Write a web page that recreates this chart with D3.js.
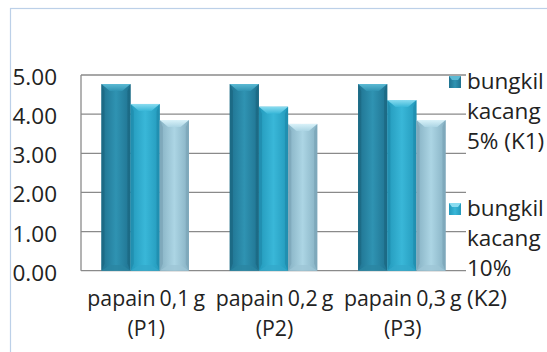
<!DOCTYPE html>
<html>
<head>
<meta charset="utf-8">
<script src="https://cdn.jsdelivr.net/npm/d3@7"></script>
<style>
  html, body { margin: 0; padding: 0; background: #fff; }
  svg { display: block; }
  text { font-family: "Open Sans", Lato, sans-serif; fill: #222; }
</style>
</head>
<body>
<svg id="chart" width="547" height="352"></svg>
<script>
// Treatment groups (two-line labels under each group)
const categories = ["P1", "P2", "P3"];
const categoryLines = [
  ["papain 0,1 g", "(P1)"],
  ["papain 0,2 g", "(P2)"],
  ["papain 0,3 g", "(P3)"]
];

// Series values per group
const seriesKeys = ["K1", "K2", "K3"];
const valuesK1 = [4.77, 4.77, 4.77];
const valuesK2 = [4.26, 4.19, 4.36];
const valuesK3 = [3.85, 3.75, 3.85];
const seriesValues = [valuesK1, valuesK2, valuesK3];

// Legend text, already wrapped into lines
const legendLines = [
  ["bungkil", "kacang", "5% (K1)"],
  ["bungkil", "kacang", "10%", "(K2)"]
];

// Y axis ticks
const yTicks = [0, 1, 2, 3, 4, 5];

// Bar palettes: face edge, face centre, top bevel, side bevel, bottom bevel
const palettes = {
  K1: { edge: "#1f7290", mid: "#2f93b2", top: "#5cbad4", side: "#1b6780", bottom: "#2a86a3" },
  K2: { edge: "#2399bb", mid: "#39b7d8", top: "#8adcf0", side: "#1f8aab", bottom: "#33a9cb" },
  K3: { edge: "#86b1c3", mid: "#acd5e4", top: "#d9f2f9", side: "#7ba4b6", bottom: "#9dc6d6" }
};

const fontSize = 22.5;
const catFontSize = 21.3;
const svg = d3.select("#chart");

// Outer chart frame (only top and left edges fall inside the view)
svg.append("rect")
  .attr("x", 10.5).attr("y", 8.5)
  .attr("width", 600).attr("height", 400)
  .attr("fill", "none")
  .attr("stroke", "#bcd0e8")
  .attr("stroke-width", 1.2);

const plot = { left: 81, right: 466, top: 75, bottom: 270.7 };

const x = d3.scaleBand().domain(categories).range([plot.left, plot.right]).padding(0);
const xInner = d3.scaleBand().domain(seriesKeys)
  .range([20.4, x.bandwidth() - 20.4]).padding(0);
const y = d3.scaleLinear().domain([0, 5]).range([plot.bottom, plot.top]);

// Gradients for bar faces
const defs = svg.append("defs");
seriesKeys.forEach(k => {
  const p = palettes[k];
  const g = defs.append("linearGradient").attr("id", "face-" + k)
    .attr("x1", "0%").attr("x2", "100%").attr("y1", "0%").attr("y2", "0%");
  g.append("stop").attr("offset", "0%").attr("stop-color", p.edge);
  g.append("stop").attr("offset", "50%").attr("stop-color", p.mid);
  g.append("stop").attr("offset", "100%").attr("stop-color", p.edge);
  const t = defs.append("linearGradient").attr("id", "top-" + k)
    .attr("x1", "0%").attr("x2", "0%").attr("y1", "0%").attr("y2", "100%");
  t.append("stop").attr("offset", "0%").attr("stop-color", p.top);
  t.append("stop").attr("offset", "100%").attr("stop-color", p.mid);
});

// Gridlines
svg.append("g")
  .selectAll("line")
  .data(yTicks)
  .join("line")
  .attr("x1", plot.left).attr("x2", plot.right)
  .attr("y1", d => y(d)).attr("y2", d => y(d))
  .attr("stroke", "#8a8a8a")
  .attr("stroke-width", 1.3);

// Vertical axis line
svg.append("line")
  .attr("x1", plot.left).attr("x2", plot.left)
  .attr("y1", y(5)).attr("y2", y(0))
  .attr("stroke", "#8a8a8a")
  .attr("stroke-width", 1.3);

// Y tick labels
const yAxis = d3.axisLeft(y).tickValues(yTicks).tickFormat(d3.format(".2f")).tickSize(0).tickPadding(0);
const yAxisG = svg.append("g").attr("transform", "translate(57,0)").call(yAxis);
yAxisG.select(".domain").remove();
yAxisG.selectAll("text")
  .attr("font-size", fontSize)
  .attr("dy", "0.42em")
  .style("font-family", "'Open Sans', Lato, sans-serif")
  .attr("fill", "#222");

// Bars with bevelled edges
const bevel = 7;
const bars = [];
categories.forEach((c, ci) => {
  seriesKeys.forEach((k, si) => {
    bars.push({ cat: c, key: k, value: seriesValues[si][ci] });
  });
});

const barG = svg.append("g")
  .selectAll("g")
  .data(bars)
  .join("g");

barG.each(function (d) {
  const g = d3.select(this);
  const x0 = x(d.cat) + xInner(d.key);
  const w = xInner.bandwidth();
  const t = y(d.value);
  const b = y(0);
  const p = palettes[d.key];
  const bv = Math.min(bevel, (b - t) / 2);
  g.append("rect")
    .attr("x", x0).attr("y", t).attr("width", w).attr("height", b - t)
    .attr("fill", `url(#face-${d.key})`);
  // left / right side bevels
  g.append("polygon")
    .attr("points", [[x0, t], [x0 + bv * 0.45, t + bv], [x0 + bv * 0.45, b - bv], [x0, b]].join(" "))
    .attr("fill", p.side).attr("opacity", 0.7);
  g.append("polygon")
    .attr("points", [[x0 + w, t], [x0 + w - bv * 0.45, t + bv], [x0 + w - bv * 0.45, b - bv], [x0 + w, b]].join(" "))
    .attr("fill", p.side).attr("opacity", 0.7);
  // top bevel
  g.append("polygon")
    .attr("points", [[x0, t], [x0 + w, t], [x0 + w - bv * 1.2, t + bv], [x0 + bv * 1.2, t + bv]].join(" "))
    .attr("fill", `url(#top-${d.key})`);
  // bottom bevel
  g.append("polygon")
    .attr("points", [[x0, b], [x0 + w, b], [x0 + w - bv * 1.2, b - bv * 0.8], [x0 + bv * 1.2, b - bv * 0.8]].join(" "))
    .attr("fill", p.bottom).attr("opacity", 0.8);
});

// Category labels
const catG = svg.append("g")
  .selectAll("text")
  .data(categories)
  .join("text")
  .attr("x", d => x(d) + x.bandwidth() / 2 + 1)
  .attr("text-anchor", "middle")
  .attr("font-size", catFontSize)
  .attr("word-spacing", -1.5);
catG.selectAll("tspan")
  .data((d, i) => categoryLines[i])
  .join("tspan")
  .attr("x", function () { return d3.select(this.parentNode).attr("x"); })
  .attr("y", (d, i) => 306 + i * 30)
  .text(d => d);

// Legend
const legendTop = [89, 216];
const legend = svg.append("g")
  .selectAll("g")
  .data(legendLines)
  .join("g");

legend.each(function (lines, i) {
  const g = d3.select(this);
  const key = seriesKeys[i];
  const p = palettes[key];
  const base = legendTop[i];
  const mx = 449, my = base - 13, ms = 12;
  g.append("rect")
    .attr("x", mx).attr("y", my).attr("width", ms).attr("height", ms)
    .attr("fill", `url(#face-${key})`);
  g.append("polygon")
    .attr("points", [[mx, my], [mx + ms, my], [mx + ms - 3, my + 4], [mx + 3, my + 4]].join(" "))
    .attr("fill", p.top);
  g.append("text")
    .attr("font-size", fontSize)
    .selectAll("tspan")
    .data(lines)
    .join("tspan")
    .attr("x", 467)
    .attr("y", (d, j) => base + j * 30)
    .text(d => d);
});
</script>
</body>
</html>
